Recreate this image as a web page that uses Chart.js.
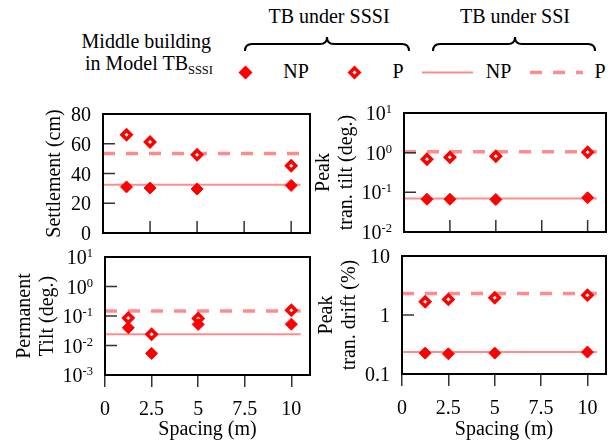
<!DOCTYPE html>
<html>
<head>
<meta charset="utf-8">
<script src="https://cdn.jsdelivr.net/npm/chart.js@4.4.1/dist/chart.umd.min.js"></script>
<style>
  body { margin: 0; background: #fff; }
  #wrap { position: relative; width: 614px; height: 444px; overflow: hidden; font-family: "Liberation Serif", serif; }
  .panel { position: absolute; }
  #head { position: absolute; left: 0; top: 0; }
  #head text { font-family: "Liberation Serif", serif; font-size: 20px; fill: #000; }
</style>
</head>
<body>
<div id="wrap">
  <svg id="head" width="614" height="95">
    <text x="329" y="23" text-anchor="middle">TB under SSSI</text>
    <text x="515" y="23" text-anchor="middle">TB under SSI</text>
    <text x="211" y="48" text-anchor="end">Middle building</text>
    <text x="213" y="70" text-anchor="end">in Model TB<tspan font-size="12.5" dy="4">SSSI</tspan></text>
    <path d="M245,51 Q245,44 252,44 L320,44 Q327,44 327,37 Q327,44 334,44 L402,44 Q409,44 409,51" fill="none" stroke="#000" stroke-width="2"/>
    <path d="M433,51 Q433,44 440,44 L508,44 Q515,44 515,37 Q515,44 522,44 L588,44 Q595,44 595,51" fill="none" stroke="#000" stroke-width="2"/>
    <polygon points="238.5,72.5 245.5,65.5 252.5,72.5 245.5,79.5" fill="#ff0000"/>
    <text x="296" y="78" text-anchor="middle">NP</text>
    <polygon points="350,72.5 354.5,68 359,72.5 354.5,77" fill="#fff" stroke="#ff0000" stroke-width="3.5"/>
    <text x="398" y="78" text-anchor="middle">P</text>
    <line x1="422" y1="72.5" x2="473" y2="72.5" stroke="rgba(255,0,0,0.45)" stroke-width="2"/>
    <text x="498.5" y="78" text-anchor="middle">NP</text>
    <line x1="530" y1="72.5" x2="583" y2="72.5" stroke="rgba(255,0,0,0.45)" stroke-width="3.5" stroke-dasharray="12 11"/>
    <text x="600" y="78" text-anchor="middle">P</text>
  </svg>
  <div class="panel" style="left:0;top:100px"><canvas id="settle" width="318" height="145"></canvas></div>
  <div class="panel" style="left:300px;top:100px"><canvas id="tranTilt" width="314" height="145"></canvas></div>
  <div class="panel" style="left:0;top:245px"><canvas id="permTilt" width="318" height="199"></canvas></div>
  <div class="panel" style="left:300px;top:245px"><canvas id="drift" width="314" height="199"></canvas></div>
</div>
<script>
// spacing between buildings (m)
const spacing = [1.25, 2.5, 5, 10];

// TB under SSSI, middle building NP / P
const settleNP = [31, 30.2, 29.6, 32];
const settleP = [66, 61.2, 52.6, 45.2];
const tranTiltNP = [0.067, 0.067, 0.066, 0.073];
const tranTiltP = [0.68, 0.77, 0.81, 1.02];
const permTiltNP = [0.040, 0.0054, 0.052, 0.053];
const permTiltP = [0.086, 0.024, 0.082, 0.157];
const driftNP = [0.226, 0.22, 0.226, 0.235];
const driftP = [1.68, 1.84, 1.96, 2.17];

// TB under SSI (single building) NP / P : settlement, tran tilt, perm tilt, drift
const ssiNP = [32.5, 0.070, 0.024, 0.235];
const ssiP = [53.5, 1.06, 0.148, 2.32];
const ssiLineX = [0, 10.5];

// tick labels
const xTicks = [0, 2.5, 5, 7.5, 10];
const settleTicks = [0, 20, 40, 60, 80];
const tranTiltTicks = [0.01, 0.1, 1, 10];
const permTiltTicks = [0.001, 0.01, 0.1, 1, 10];
const driftTicks = [0.1, 1, 10];

const FONT = '"Liberation Serif", serif';
const RED = '#ff0000';
const PALE = 'rgba(255,0,0,0.45)';

const pw = v => ({ main: '10', sup: String(Math.round(Math.log10(v))) });
const plain = v => ({ main: String(v), sup: '' });

const framePlugin = {
  id: 'frame',
  afterDraw(chart, args, opts) {
    const { ctx, chartArea: a, scales: { x, y } } = chart;
    ctx.save();
    ctx.strokeStyle = '#333';
    ctx.lineWidth = 1.5;
    ctx.beginPath();
    opts.yTicks.slice(1, -1).forEach(v => {
      const py = y.getPixelForValue(v);
      ctx.moveTo(a.left, py);
      ctx.lineTo(a.left + 12, py);
    });
    if (opts.xInside) {
      xTicks.slice(1).forEach(v => {
        const px = x.getPixelForValue(v);
        ctx.moveTo(px, a.bottom);
        ctx.lineTo(px, a.bottom - 12);
      });
    }
    ctx.stroke();
    ctx.strokeStyle = '#000';
    ctx.lineWidth = 2;
    ctx.strokeRect(a.left, a.top, a.right - a.left, a.bottom - a.top);

    ctx.fillStyle = '#000';
    ctx.textBaseline = 'alphabetic';
    ctx.textAlign = 'left';
    opts.yTicks.forEach(v => {
      const lab = opts.label(v);
      const base = y.getPixelForValue(v) + 7;
      const right = a.left - 12;
      ctx.font = '20px ' + FONT;
      const w1 = ctx.measureText(lab.main).width;
      ctx.font = '12.5px ' + FONT;
      const w2 = lab.sup ? ctx.measureText(lab.sup).width : 0;
      ctx.font = '20px ' + FONT;
      ctx.fillText(lab.main, right - w1 - w2, base);
      if (lab.sup) {
        ctx.font = '12.5px ' + FONT;
        ctx.fillText(lab.sup, right - w2, base - 7);
      }
    });
    ctx.restore();
  }
};

function makePanel(id, p) {
  const pts = arr => spacing.map((s, i) => ({ x: s, y: arr[i] }));
  const flat = v => ssiLineX.map(s => ({ x: s, y: v }));
  const xAxis = {
    type: 'linear', min: 0, max: 11,
    afterFit: s => { s.height = p.xHeight; }
  };
  if (p.bottomRow) {
    Object.assign(xAxis, {
      afterBuildTicks: s => { s.ticks = xTicks.map(v => ({ value: v })); },
      ticks: { font: { family: FONT, size: 20, lineHeight: 1.2 }, color: '#000', padding: 11, maxRotation: 0, autoSkip: false, callback: v => String(v) },
      grid: { drawOnChartArea: false, drawTicks: true, tickLength: 12, color: '#333', lineWidth: 1.5 },
      border: { display: false },
      title: { display: true, text: 'Spacing (m)', color: '#000', font: { family: FONT, size: 20, lineHeight: 1.15 }, padding: { top: 0, bottom: 3 } }
    });
  } else {
    Object.assign(xAxis, { ticks: { display: false }, grid: { display: false }, border: { display: false } });
  }
  return new Chart(document.getElementById(id).getContext('2d'), {
    type: 'scatter',
    data: {
      datasets: [
        { label: 'NP', data: pts(p.np), pointStyle: 'rectRot', pointRadius: 6, pointHoverRadius: 6, backgroundColor: RED, borderColor: RED, borderWidth: 1, order: 0 },
        { label: 'P', data: pts(p.p), pointStyle: 'rectRot', pointRadius: 4.5, pointHoverRadius: 4.5, backgroundColor: '#fff', borderColor: RED, borderWidth: 3.5, order: 0 },
        { label: 'SSI NP', data: flat(p.ssiNP), showLine: true, pointRadius: 0, borderColor: PALE, borderWidth: 2, order: 1 },
        { label: 'SSI P', data: flat(p.ssiP), showLine: true, pointRadius: 0, borderColor: PALE, borderWidth: 3.5, borderDash: [12, 11], order: 1 }
      ]
    },
    options: {
      responsive: false,
      animation: false,
      devicePixelRatio: 1,
      layout: { padding: p.padding },
      scales: {
        x: xAxis,
        y: {
          type: p.log ? 'logarithmic' : 'linear',
          min: p.yTicks[0], max: p.yTicks[p.yTicks.length - 1],
          ticks: { display: false },
          grid: { display: false },
          border: { display: false },
          title: { display: true, text: p.title, color: '#000', font: { family: FONT, size: 20, lineHeight: 1.15 }, padding: { top: p.titlePad, bottom: 0 } },
          afterFit: s => { s.width = p.yWidth; }
        }
      },
      plugins: {
        legend: { display: false },
        tooltip: { enabled: false },
        frame: { yTicks: p.yTicks, label: p.label, xInside: !p.bottomRow }
      }
    },
    plugins: [framePlugin]
  });
}

makePanel('settle', {
  np: settleNP, p: settleP, ssiNP: ssiNP[0], ssiP: ssiP[0],
  yTicks: settleTicks, label: plain, log: false,
  title: 'Settlement (cm)', titlePad: 43.5, yWidth: 103, xHeight: 12,
  padding: { left: 0, top: 14, right: 7, bottom: 0 }, bottomRow: false
});
makePanel('tranTilt', {
  np: tranTiltNP, p: tranTiltP, ssiNP: ssiNP[1], ssiP: ssiP[1],
  yTicks: tranTiltTicks, label: pw, log: true,
  title: ['Peak', 'tran. tilt (deg.)'], titlePad: 12.5, yWidth: 104, xHeight: 13,
  padding: { left: 0, top: 13, right: 2, bottom: 0 }, bottomRow: false
});
makePanel('permTilt', {
  np: permTiltNP, p: permTiltP, ssiNP: ssiNP[2], ssiP: ssiP[2],
  yTicks: permTiltTicks, label: pw, log: true,
  title: ['Permanent', 'Tilt (deg.)'], titlePad: 13.5, yWidth: 105, xHeight: 69,
  padding: { left: 0, top: 12, right: 5, bottom: 0 }, bottomRow: true
});
makePanel('drift', {
  np: driftNP, p: driftP, ssiNP: ssiNP[3], ssiP: ssiP[3],
  yTicks: driftTicks, label: plain, log: true,
  title: ['Peak', 'tran. drift (%)'], titlePad: 15.5, yWidth: 102, xHeight: 70,
  padding: { left: 0, top: 11, right: 4, bottom: 0 }, bottomRow: true
});
</script>
</body>
</html>
